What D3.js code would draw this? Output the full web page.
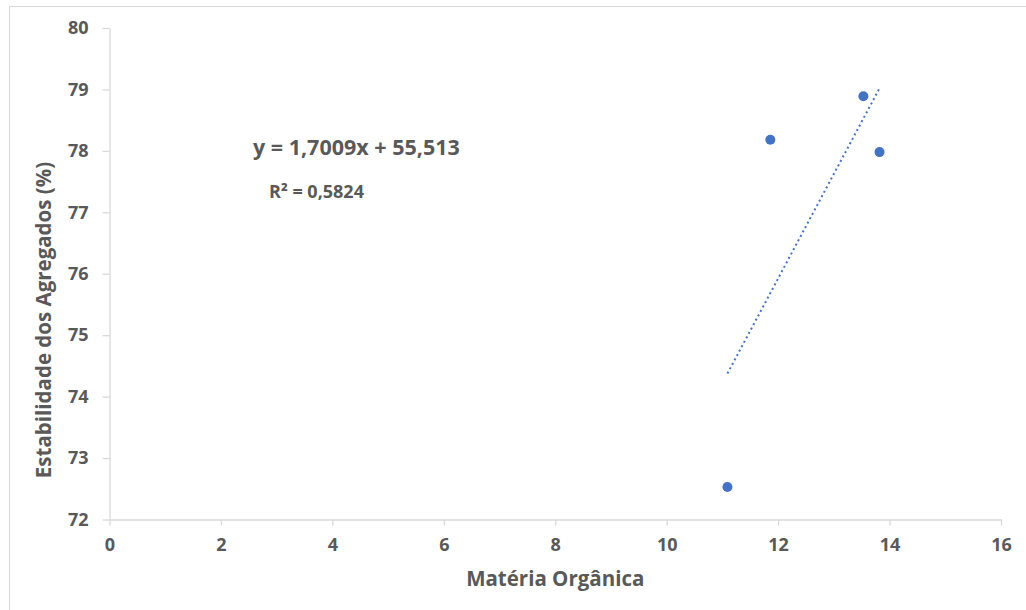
<!DOCTYPE html>
<html>
<head>
<meta charset="utf-8">
<script src="https://cdn.jsdelivr.net/npm/d3@7"></script>
<style>
  body { margin: 0; background: #fff; }
  svg { display: block; }
  text { font-family: "Open Sans", sans-serif; font-weight: 700; fill: #595959; }
</style>
</head>
<body>
<svg id="chart" width="1026" height="610"></svg>
<script>
// Data
const materiaOrganica = [11.09, 11.86, 13.53, 13.82];
const estabilidade = [72.53, 78.18, 78.89, 77.98];
const xTicks = [0, 2, 4, 6, 8, 10, 12, 14, 16];
const yTicks = [72, 73, 74, 75, 76, 77, 78, 79, 80];
const slope = 1.7009;
const intercept = 55.513;
const equationLabel = "y = 1,7009x + 55,513";
const r2Label = "R² = 0,5824";
const xTitle = "Matéria Orgânica";
const yTitle = "Estabilidade dos Agregados (%)";

const W = 1026, H = 610;
const margin = { left: 109.5, right: 25, top: 28, bottom: 90.5 };
const svg = d3.select("#chart");

// chart border
svg.append("rect")
  .attr("x", 9.5).attr("y", 6.5)
  .attr("width", W + 10).attr("height", H + 10)
  .attr("fill", "none").attr("stroke", "#d9d9d9").attr("stroke-width", 1);

const x = d3.scaleLinear().domain([0, 16]).range([margin.left, W - margin.right]);
const y = d3.scaleLinear().domain([72, 80]).range([H - margin.bottom, margin.top]);

const axisColor = "#d9d9d9";

const gx = svg.append("g")
  .attr("transform", `translate(0,${H - margin.bottom})`)
  .call(d3.axisBottom(x).tickValues(xTicks).tickFormat(d3.format("d")).tickSize(6).tickPadding(13).tickSizeOuter(0));
const gy = svg.append("g")
  .attr("transform", `translate(${margin.left},0)`)
  .call(d3.axisLeft(y).tickValues(yTicks).tickFormat(d3.format("d")).tickSize(7).tickPadding(14).tickSizeOuter(0));

[gx, gy].forEach(g => {
  g.select(".domain").attr("stroke", axisColor).attr("stroke-width", 1.3);
  g.selectAll(".tick line").attr("stroke", axisColor).attr("stroke-width", 1.3);
  g.selectAll(".tick text")
    .attr("fill", "#595959")
    .style("font-family", "'Open Sans', sans-serif")
    .style("font-weight", "700")
    .style("font-size", "18px");
});

// trendline
const xMin = d3.min(materiaOrganica), xMax = d3.max(materiaOrganica);
svg.append("line")
  .attr("x1", x(xMin)).attr("y1", y(slope * xMin + intercept))
  .attr("x2", x(xMax)).attr("y2", y(slope * xMax + intercept))
  .attr("stroke", "#4472C4")
  .attr("stroke-width", 2)
  .attr("stroke-dasharray", "2,3");

// points
svg.append("g").selectAll("circle")
  .data(materiaOrganica.map((v, i) => [v, estabilidade[i]]))
  .join("circle")
  .attr("cx", d => x(d[0]))
  .attr("cy", d => y(d[1]))
  .attr("r", 5)
  .attr("fill", "#4472C4");

// equation labels
svg.append("text")
  .attr("x", 253).attr("y", 155)
  .style("font-size", "21.5px")
  .text(equationLabel);
svg.append("text")
  .attr("x", 269).attr("y", 198)
  .style("font-size", "18px")
  .text(r2Label);

// axis titles
svg.append("text")
  .attr("x", (margin.left + W - margin.right) / 2)
  .attr("y", 586)
  .attr("text-anchor", "middle")
  .style("font-size", "20.5px")
  .text(xTitle);
svg.append("text")
  .attr("transform", "translate(51,320) rotate(-90)")
  .attr("text-anchor", "middle")
  .style("font-size", "20.5px")
  .text(yTitle);
</script>
</body>
</html>
